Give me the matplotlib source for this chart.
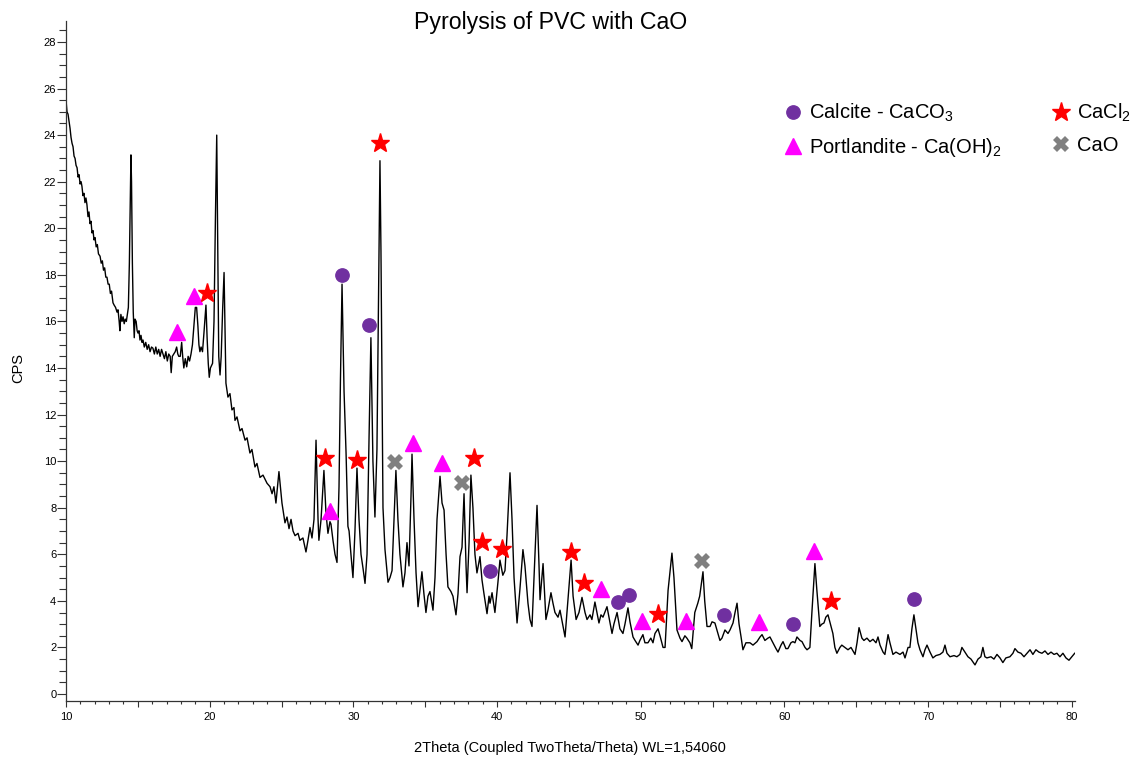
import numpy as np
import matplotlib
matplotlib.use("Agg")
import matplotlib.pyplot as plt
from matplotlib.ticker import MultipleLocator, FuncFormatter

plt.rcParams['font.family'] = ['Liberation Sans', 'DejaVu Sans']

# XRD pattern (2theta in degrees, intensity in CPS)
two_theta = [
    10.00, 10.07, 10.14, 10.21, 10.28, 10.35, 10.42, 10.49, 10.56, 10.63, 10.70, 10.77, 10.84, 10.91,
    10.98, 11.05, 11.11, 11.18, 11.25, 11.32, 11.39, 11.46, 11.53, 11.60, 11.67, 11.74, 11.81, 11.88,
    11.95, 12.02, 12.10, 12.18, 12.26, 12.37, 12.45, 12.53, 12.61, 12.69, 12.77, 12.85, 12.93, 13.01,
    13.09, 13.17, 13.27, 13.35, 13.45, 13.55, 13.62, 13.70, 13.75, 13.82, 13.90, 13.97, 14.05, 14.12,
    14.20, 14.27, 14.34, 14.41, 14.48, 14.52, 14.56, 14.62, 14.68, 14.75, 14.80, 14.88, 14.95, 15.01,
    15.08, 15.15, 15.22, 15.29, 15.36, 15.45, 15.55, 15.65, 15.75, 15.85, 15.95, 16.05, 16.15, 16.25,
    16.35, 16.45, 16.55, 16.65, 16.75, 16.85, 16.95, 17.05, 17.15, 17.25, 17.32, 17.40, 17.50, 17.60,
    17.70, 17.78, 17.85, 17.95, 18.05, 18.12, 18.20, 18.30, 18.40, 18.50, 18.60, 18.70, 18.80, 18.90,
    19.00, 19.09, 19.18, 19.25, 19.32, 19.40, 19.50, 19.60, 19.74, 19.82, 19.90, 19.97, 20.05, 20.20,
    20.30, 20.40, 20.49, 20.56, 20.63, 20.72, 20.80, 20.90, 21.00, 21.07, 21.13, 21.27, 21.41, 21.55,
    21.69, 21.76, 21.90, 22.11, 22.25, 22.46, 22.60, 22.80, 22.94, 23.15, 23.29, 23.50, 23.71, 23.99,
    24.20, 24.34, 24.47, 24.61, 24.82, 25.03, 25.24, 25.38, 25.52, 25.66, 25.80, 25.94, 26.15, 26.28,
    26.49, 26.70, 26.84, 26.98, 27.12, 27.26, 27.40, 27.54, 27.60, 27.75, 27.95, 28.09, 28.23, 28.37,
    28.44, 28.58, 28.72, 28.86, 29.00, 29.10, 29.21, 29.35, 29.49, 29.62, 29.70, 29.83, 29.97, 30.11,
    30.25, 30.39, 30.53, 30.67, 30.81, 30.95, 31.09, 31.22, 31.36, 31.50, 31.64, 31.78, 31.85, 31.92,
    32.06, 32.20, 32.41, 32.55, 32.69, 32.83, 32.96, 33.10, 33.24, 33.45, 33.59, 33.73, 33.87, 34.01,
    34.08, 34.22, 34.36, 34.50, 34.64, 34.77, 34.91, 35.05, 35.19, 35.33, 35.54, 35.68, 35.82, 36.03,
    36.17, 36.31, 36.45, 36.58, 36.79, 36.93, 37.14, 37.28, 37.42, 37.56, 37.70, 37.84, 37.91, 38.05,
    38.18, 38.32, 38.46, 38.60, 38.81, 38.95, 39.09, 39.30, 39.44, 39.51, 39.65, 39.85, 40.06, 40.20,
    40.40, 40.55, 40.69, 40.90, 41.04, 41.18, 41.39, 41.59, 41.80, 41.94, 42.15, 42.29, 42.43, 42.57,
    42.78, 42.92, 42.99, 43.20, 43.40, 43.54, 43.75, 43.89, 44.03, 44.24, 44.38, 44.59, 44.73, 44.93,
    45.15, 45.29, 45.50, 45.70, 45.91, 46.12, 46.26, 46.47, 46.60, 46.81, 46.95, 47.09, 47.23, 47.37,
    47.65, 47.79, 48.00, 48.13, 48.35, 48.55, 48.76, 48.90, 49.11, 49.25, 49.46, 49.60, 49.81, 49.94,
    50.15, 50.29, 50.50, 50.70, 50.85, 50.99, 51.20, 51.34, 51.55, 51.69, 51.90, 52.03, 52.17, 52.31,
    52.52, 52.73, 52.87, 53.07, 53.21, 53.42, 53.55, 53.76, 53.97, 54.10, 54.33, 54.45, 54.61, 54.82,
    54.96, 55.16, 55.37, 55.51, 55.65, 55.86, 56.07, 56.21, 56.42, 56.56, 56.70, 56.84, 56.98, 57.11,
    57.32, 57.60, 57.81, 58.09, 58.30, 58.44, 58.64, 58.85, 58.99, 59.20, 59.41, 59.55, 59.76, 59.90,
    60.10, 60.24, 60.45, 60.59, 60.73, 60.87, 61.08, 61.22, 61.43, 61.57, 61.77, 61.91, 62.12, 62.25,
    62.46, 62.60, 62.75, 62.88, 63.03, 63.16, 63.37, 63.51, 63.65, 63.86, 63.99, 64.21, 64.42, 64.63,
    64.91, 65.05, 65.19, 65.39, 65.53, 65.74, 65.95, 66.16, 66.37, 66.51, 66.65, 66.86, 66.99, 67.21,
    67.34, 67.55, 67.76, 68.04, 68.25, 68.39, 68.60, 68.73, 68.87, 69.01, 69.15, 69.29, 69.43, 69.64,
    69.78, 69.92, 70.13, 70.33, 70.54, 70.82, 71.03, 71.17, 71.31, 71.52, 71.80, 72.00, 72.21, 72.35,
    72.56, 72.77, 72.98, 73.26, 73.47, 73.67, 73.81, 73.95, 74.09, 74.37, 74.58, 74.79, 75.00, 75.20,
    75.41, 75.69, 75.90, 76.04, 76.25, 76.46, 76.67, 76.88, 77.09, 77.29, 77.50, 77.71, 77.92, 78.13,
    78.34, 78.55, 78.76, 78.96, 79.17, 79.38, 79.59, 79.80, 80.00, 80.20,
]
cps = [
    25.5, 25.0, 24.9, 24.6, 24.3, 23.9, 23.65, 23.5, 23.1, 23.0, 22.7, 22.6, 22.2, 22.3,
    21.9, 22.0, 21.8, 21.4, 21.5, 21.1, 21.3, 21.0, 20.5, 20.7, 20.2, 20.3, 19.8, 19.9,
    19.5, 19.6, 19.2, 19.3, 18.9, 18.8, 18.5, 18.6, 18.2, 18.3, 17.9, 17.9, 17.6, 17.6,
    17.2, 17.3, 16.8, 16.7, 16.6, 16.4, 16.5, 16.0, 15.6, 16.3, 16.0, 16.2, 15.9, 16.1,
    16.0, 16.3, 16.6, 18.5, 21.5, 23.15, 22.0, 18.5, 16.4, 15.3, 16.1, 16.0, 15.6, 15.5,
    15.6, 15.2, 15.4, 15.1, 15.2, 14.9, 15.1, 14.8, 15.0, 14.7, 14.9, 14.85, 14.6, 14.9,
    14.6, 14.8, 14.5, 14.8, 14.6, 14.4, 14.7, 14.3, 14.6, 14.5, 13.8, 14.5, 14.6, 14.7,
    14.9, 14.6, 14.5, 14.5, 15.1, 14.5, 14.0, 14.4, 14.05, 14.5, 14.3, 14.6, 15.0, 15.8,
    16.6, 16.6, 15.8, 15.0, 14.7, 14.9, 14.7, 15.5, 16.7, 15.3, 14.2, 13.6, 14.0, 14.2,
    16.0, 20.5, 24.0, 19.0, 14.5, 13.7, 14.5, 16.5, 18.1, 15.5, 13.35, 12.75, 12.9, 12.2,
    12.3, 11.75, 11.9, 11.3, 11.4, 10.9, 11.0, 10.35, 10.5, 9.75, 9.9, 9.3, 9.4, 9.05,
    8.9, 8.6, 8.9, 8.2, 9.55, 8.2, 7.35, 7.6, 7.1, 7.5, 7.0, 6.8, 6.9, 6.6,
    6.7, 6.1, 6.6, 7.15, 6.7, 7.5, 10.9, 7.5, 6.6, 7.5, 9.6, 7.8, 6.9, 7.4,
    7.3, 6.6, 6.0, 5.65, 8.9, 13.5, 17.6, 13.0, 10.35, 7.2, 7.0, 6.0, 5.0, 7.0,
    9.7, 7.5, 6.0, 5.4, 4.75, 6.0, 11.0, 15.3, 10.0, 7.6, 10.5, 19.0, 22.9, 19.0,
    8.0, 6.2, 4.8, 5.0, 5.3, 7.5, 9.6, 7.5, 6.0, 4.6, 5.2, 6.5, 5.5, 8.5,
    10.3, 7.5, 5.2, 3.75, 4.5, 5.25, 4.3, 3.5, 4.2, 4.4, 3.6, 5.0, 7.5, 9.35,
    8.2, 7.9, 6.0, 4.6, 4.4, 4.2, 3.4, 4.3, 5.9, 6.3, 8.6, 5.5, 4.35, 6.5,
    9.4, 8.0, 6.0, 5.2, 5.9, 4.9, 4.3, 3.45, 4.2, 3.9, 4.35, 3.5, 4.8, 5.75,
    5.1, 5.3, 6.8, 9.5, 7.5, 5.0, 3.05, 4.5, 6.2, 5.5, 3.9, 3.2, 2.9, 5.0,
    8.1, 5.5, 4.05, 5.6, 3.2, 3.6, 4.35, 3.9, 3.5, 3.3, 3.6, 2.9, 2.45, 4.0,
    5.75, 4.2, 3.2, 3.5, 4.15, 3.5, 3.2, 3.4, 3.2, 3.95, 3.5, 3.05, 3.4, 3.3,
    3.75, 3.3, 2.6, 3.0, 3.5, 2.8, 2.6, 3.0, 3.7, 3.1, 2.45, 2.3, 2.1, 2.3,
    2.55, 2.2, 2.2, 2.4, 2.2, 2.6, 2.8, 2.5, 2.0, 2.0, 4.45, 5.2, 6.05, 5.0,
    2.75, 2.4, 2.25, 2.5, 2.4, 2.2, 1.95, 3.5, 3.9, 4.2, 5.25, 4.0, 2.9, 2.9,
    3.1, 3.05, 2.6, 2.3, 2.4, 2.75, 2.6, 2.75, 3.05, 3.5, 3.9, 3.0, 2.45, 1.9,
    2.2, 2.2, 2.1, 2.25, 2.45, 2.55, 2.3, 2.4, 2.45, 2.2, 1.95, 1.8, 2.1, 2.25,
    1.95, 1.95, 2.2, 2.25, 2.2, 2.45, 2.3, 2.25, 2.0, 1.9, 2.0, 3.5, 5.6, 4.5,
    2.9, 3.0, 3.05, 3.3, 3.4, 3.1, 2.6, 2.0, 1.75, 2.0, 2.1, 2.0, 1.9, 2.0,
    1.7, 2.2, 2.85, 2.4, 2.3, 2.4, 2.25, 2.35, 2.2, 2.45, 2.1, 1.8, 1.7, 2.55,
    2.2, 1.7, 1.8, 1.7, 1.8, 1.55, 2.0, 2.0, 2.8, 3.4, 2.8, 2.2, 1.9, 1.6,
    1.9, 2.1, 1.8, 1.55, 1.65, 1.7, 1.8, 2.1, 1.75, 1.6, 1.65, 1.6, 1.7, 2.0,
    1.8, 1.6, 1.5, 1.25, 1.5, 1.6, 2.0, 1.6, 1.55, 1.6, 1.5, 1.7, 1.55, 1.35,
    1.55, 1.6, 1.75, 1.95, 1.8, 1.75, 1.6, 1.75, 1.9, 1.7, 1.9, 1.8, 1.75, 1.85,
    1.7, 1.8, 1.7, 1.75, 1.6, 1.75, 1.55, 1.45, 1.6, 1.75,
]

# phase markers (position, height)
calcite_x = [29.21, 31.09, 39.5, 48.41, 49.18, 55.79, 60.59, 69.0]
calcite_y = [18.0, 15.84, 5.28, 3.95, 4.25, 3.39, 3.0, 4.08]
portlandite_x = [17.72, 18.9, 28.37, 34.17, 36.14, 47.23, 50.1, 53.12, 58.2, 62.07]
portlandite_y = [15.56, 17.07, 7.86, 10.76, 9.94, 4.49, 3.13, 3.13, 3.1, 6.14]
cacl2_x = [19.83, 28.02, 30.23, 31.85, 38.41, 38.93, 40.32, 45.12, 46.05, 51.22, 63.21]
cacl2_y = [17.2, 10.15, 10.05, 23.67, 10.12, 6.54, 6.23, 6.11, 4.75, 3.42, 4.01]
cao_x = [32.9, 37.58, 54.24]
cao_y = [9.97, 9.07, 5.71]

W, H = 1137, 760
fig = plt.figure(figsize=(W / 100, H / 100), dpi=100)
ax = fig.add_axes([66 / W, 59 / H, 1009 / W, 680 / H])

ax.plot(two_theta, cps, color='black', lw=1.0)

ms = dict(linestyle='none', clip_on=False)
ax.plot(calcite_x, calcite_y, marker='o', ms=9.6, color='#7030A0',
        label=r'Calcite - CaCO$\mathregular{_3}$', **ms)
ax.plot(portlandite_x, portlandite_y, marker='^', ms=12, color='#FF00FF',
        label=r'Portlandite - Ca(OH)$\mathregular{_2}$', **ms)
ax.plot(cacl2_x, cacl2_y, marker='*', ms=14, color='#FF0000',
        label=r'CaCl$\mathregular{_2}$', **ms)
ax.plot(cao_x, cao_y, marker='X', ms=11, color='#808080', markeredgewidth=0,
        label='CaO', **ms)

ax.set_xlim(10, 80.22)
ax.set_ylim(-0.3, 28.9)
for s in ['top', 'right']:
    ax.spines[s].set_visible(False)
for s in ['left', 'bottom']:
    ax.spines[s].set_linewidth(0.9)
    ax.spines[s].set_color('#333333')

ax.xaxis.set_major_locator(MultipleLocator(5))
ax.xaxis.set_minor_locator(MultipleLocator(1))
ax.xaxis.set_major_formatter(FuncFormatter(lambda v, p: '%d' % v if v % 10 == 0 else ''))
ax.yaxis.set_major_locator(MultipleLocator(2))
ax.yaxis.set_minor_locator(MultipleLocator(0.5))
ax.tick_params(axis='x', which='major', length=4.5, width=0.8, pad=3.5, labelsize=8, color='#333333')
ax.tick_params(axis='x', which='minor', length=2.5, width=0.8, color='#333333')
ax.tick_params(axis='y', which='major', length=6.5, width=0.8, pad=0.5, labelsize=8, color='#333333')
ax.tick_params(axis='y', which='minor', length=5, width=0.8, color='#333333')

fig.text(551 / W, 1 - 23 / H, 'Pyrolysis of PVC with CaO', ha='center', va='center', fontsize=16.7)
fig.text(18 / W, 1 - 368 / H, 'CPS', rotation=90, ha='center', va='center', fontsize=10.5)
fig.text(570 / W, 1 - 748 / H, '2Theta (Coupled TwoTheta/Theta) WL=1,54060',
         ha='center', va='center', fontsize=10.5)

ax.legend(ncol=2, frameon=False, fontsize=14.5, handlelength=1.0, handletextpad=0.3,
          columnspacing=2.45, labelspacing=0.57, borderpad=0, borderaxespad=0,
          loc='upper left', bbox_to_anchor=(783 / W, 1 - 102 / H),
          bbox_transform=fig.transFigure)

fig.savefig('out.png', dpi=100)
